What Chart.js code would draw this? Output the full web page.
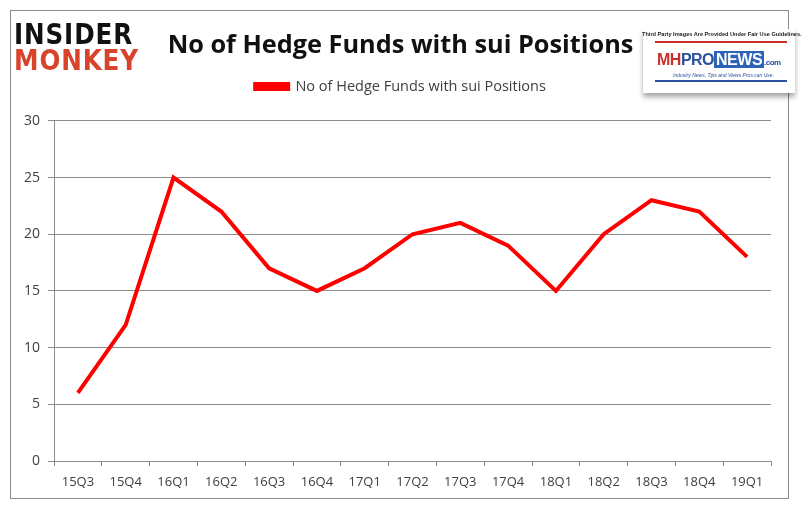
<!DOCTYPE html>
<html>
<head>
<meta charset="utf-8">
<script src="https://cdn.jsdelivr.net/npm/chart.js@4.4.1/dist/chart.umd.min.js"></script>
<style>
  html, body { margin: 0; padding: 0; background: #fff; }
  #wrap { position: relative; width: 808px; height: 510px; }
  #frame { position: absolute; left: 10px; top: 10px; width: 779px; height: 489px; border: 1.5px solid #8a8a8a; box-sizing: border-box; }
  .im { position: absolute; left: 14px; font-family: "DejaVu Sans"; font-weight: bold; font-size: 29px; line-height: 1; transform-origin: left top; transform: scaleX(0.85); letter-spacing: 1px; }
  #mh { position: absolute; left: 643px; top: 29px; width: 152px; height: 64px; background: #fff; box-shadow: 0 4px 5px rgba(0,0,0,0.35); font-family: "Liberation Sans"; }
</style>
</head>
<body>
<div id="wrap">
  <canvas id="myChart" width="808" height="510"></canvas>
  <div id="frame"></div>
  <div class="im" style="top:20px;color:#111;">INSIDER</div>
  <div class="im" style="top:46px;color:#d8432c;">MONKEY</div>
  <div id="mh">
    <div style="position:absolute;left:-1px;top:2px;font-size:5.6px;font-weight:bold;color:#222;white-space:nowrap;">Third Party Images Are Provided Under Fair Use Guidelines.</div>
    <div style="position:absolute;left:12px;top:12px;width:132px;height:2px;background:#c8302a;"></div>
    <div style="position:absolute;left:14px;top:22px;font-size:16px;font-weight:bold;white-space:nowrap;letter-spacing:-0.5px;">
      <span style="color:#c8302a;">MH</span><span style="color:#2c4f9e;">PRO</span><span style="background:#2c63b8;color:#fff;padding:0 2px;">NEWS</span><span style="color:#2c4f9e;font-size:8px;">.com</span>
    </div>
    <div style="position:absolute;left:30px;top:43px;font-size:5px;font-style:italic;color:#2c4f9e;white-space:nowrap;">Industry News, Tips and Views Pros can Use.</div>
    <div style="position:absolute;left:12px;top:51px;width:132px;height:2px;background:#2c4f9e;"></div>
  </div>
</div>
<script>
// quarters on the x axis
var ArrayQuarters = ['15Q3','15Q4','16Q1','16Q2','16Q3','16Q4','17Q1','17Q2','17Q3','17Q4','18Q1','18Q2','18Q3','18Q4','19Q1'];
// number of hedge funds holding sui
var ArrayFunds = [6, 12, 25, 22, 17, 15, 17, 20, 21, 19, 15, 20, 23, 22, 18];
var SeriesLabel = 'No of Hedge Funds with sui Positions';
var ChartTitle = 'No of Hedge Funds with sui Positions';

// extra room under the legend, and title/legend centred on the page instead of the plot
var legendGap = {
    id: 'legendGap',
    beforeInit: function(chart) {
        var fit = chart.legend.fit;
        chart.legend.fit = function() {
            fit.bind(chart.legend)();
            this.height += 17;
        };
    },
    afterLayout: function(chart) {
        [chart.titleBlock, chart.legend].forEach(function(b) {
            if (b) { b.left += 10; b.right += 10; }
        });
    }
};

var ctx = document.getElementById('myChart').getContext('2d');
var myChart = new Chart(ctx, {
    type: 'line',
    data: {
        labels: ArrayQuarters,
        datasets: [{
            label: SeriesLabel,
            data: ArrayFunds,
            borderColor: 'rgb(255, 0, 0)',
            backgroundColor: 'rgb(255, 0, 0)',
            borderWidth: 4,
            pointRadius: 0,
            tension: 0,
            fill: false
        }]
    },
    plugins: [legendGap],
    options: {
        responsive: false,
        animation: false,
        layout: { padding: { left: 10, right: 37, top: 31, bottom: 19 } },
        plugins: {
            title: {
                display: true,
                text: ChartTitle,
                color: '#111',
                font: { family: 'Open Sans', size: 25.3, weight: 'bold' },
                padding: { top: 0, bottom: 10 }
            },
            legend: {
                labels: {
                    boxWidth: 33,
                    boxHeight: 5,
                    color: '#404040',
                    font: { family: 'Open Sans', size: 14.5 },
                    padding: 8
                }
            },
            tooltip: { enabled: false }
        },
        scales: {
            y: {
                min: 0,
                max: 30,
                ticks: { stepSize: 5, color: '#404040', font: { family: 'Open Sans', size: 14 }, padding: 8 },
                grid: { color: '#8c8c8c', lineWidth: 1, tickLength: 6 },
                border: { color: '#8c8c8c' },
                afterFit: function(scale) { scale.width = 44; }
            },
            x: {
                offset: true,
                ticks: { color: '#404040', font: { family: 'Open Sans', size: 13 }, padding: 8, maxRotation: 0 },
                grid: { offset: true, drawOnChartArea: false, color: '#8c8c8c', tickLength: 5 },
                border: { color: '#8c8c8c' },
                afterFit: function(scale) { scale.height = 30; }
            }
        }
    }
});
</script>
</body>
</html>
